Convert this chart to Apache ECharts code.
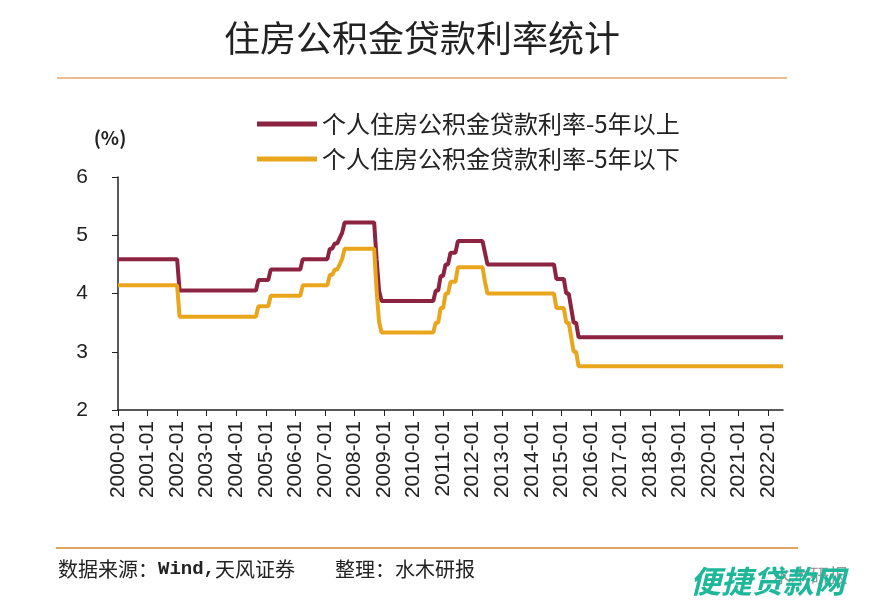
<!DOCTYPE html>
<html>
<head>
<meta charset="utf-8">
<script src="https://cdn.jsdelivr.net/npm/echarts@6/dist/echarts.min.js"></script>
<style>
  html, body { margin: 0; padding: 0; background: #fff; }
  #main { width: 889px; height: 605px; }
</style>
</head>
<body>
<div id="main"></div>
<script>
// 利率调整的月份（月末值），之后保持不变直到下一次调整
var changeMonths = ['2000-01', '2002-02', '2004-10', '2005-03', '2006-04', '2007-03', '2007-05', '2007-07', '2007-08', '2007-09',
    '2008-10', '2008-11', '2008-12', '2010-10', '2010-12', '2011-02', '2011-04', '2011-07', '2012-06', '2012-07',
    '2014-11', '2015-03', '2015-05', '2015-06', '2015-08'];
var rateAbove5 = [4.59, 4.05, 4.23, 4.41, 4.59, 4.77, 4.86, 4.95, 5.04, 5.22,
    4.59, 4.05, 3.87, 4.05, 4.30, 4.50, 4.70, 4.90, 4.70, 4.50,
    4.25, 4.00, 3.75, 3.50, 3.25];
var rateBelow5 = [4.14, 3.60, 3.78, 3.96, 4.14, 4.32, 4.41, 4.50, 4.59, 4.77,
    4.05, 3.51, 3.33, 3.50, 3.75, 4.00, 4.20, 4.45, 4.20, 4.00,
    3.75, 3.50, 3.25, 3.00, 2.75];
var startYear = 2000, endYear = 2022, endMonth = 7;
var seriesNames = ['个人住房公积金贷款利率-5年以上', '个人住房公积金贷款利率-5年以下'];

var months = [];
for (var y = startYear; y <= endYear; y++) {
    for (var m = 1; m <= 12; m++) {
        if (y === endYear && m > endMonth) break;
        months.push(y + '-' + (m < 10 ? '0' + m : m));
    }
}

function monthly(values) {
    var out = [];
    var k = 0;
    for (var i = 0; i < months.length; i++) {
        while (k + 1 < changeMonths.length && changeMonths[k + 1] <= months[i]) k++;
        out.push(values[k]);
    }
    return out;
}

var everyYear = function (idx) { return idx % 12 === 0; };

var mychart = echarts.init(document.getElementById('main'));
var option = {
    animation: false,
    backgroundColor: '#fff',
    title: {
        text: '住房公积金贷款利率统计',
        left: 417,
        top: 15,
        textAlign: 'center',
        textStyle: {
            fontFamily: 'Noto Sans CJK SC',
            fontSize: 36,
            fontWeight: 'normal',
            color: '#222'
        }
    },
    legend: {
        orient: 'vertical',
        left: 252,
        top: 107,
        itemWidth: 60,
        itemHeight: 5,
        itemGap: 11,
        icon: 'rect',
        textStyle: {
            fontFamily: 'Noto Sans CJK SC',
            fontSize: 24,
            color: '#222'
        }
    },
    grid: {
        left: 118,
        right: 106,
        top: 177,
        bottom: 195
    },
    xAxis: {
        type: 'category',
        data: months,
        boundaryGap: false,
        axisLine: { lineStyle: { color: '#222', width: 1.5 } },
        axisTick: { interval: everyYear, length: 6, lineStyle: { color: '#222' } },
        axisLabel: {
            interval: everyYear,
            rotate: 90,
            color: '#222',
            fontFamily: 'Liberation Sans',
            fontSize: 21,
            margin: 11
        }
    },
    yAxis: {
        type: 'value',
        min: 2,
        max: 6,
        interval: 1,
        name: '(%)',
        nameLocation: 'end',
        nameGap: 30,
        nameTextStyle: {
            fontFamily: 'Noto Sans CJK SC',
            fontSize: 19,
            fontWeight: 'bold',
            color: '#222',
            align: 'center',
            padding: [0, 16, 0, 0]
        },
        splitLine: { show: false },
        axisLine: { show: true, lineStyle: { color: '#222', width: 1.5 } },
        axisTick: { show: true, length: 6, lineStyle: { color: '#222' } },
        axisLabel: {
            color: '#222',
            fontFamily: 'Liberation Sans',
            fontSize: 21,
            margin: 30
        }
    },
    series: [
        {
            name: seriesNames[0],
            type: 'line',
            data: monthly(rateAbove5),
            showSymbol: false,
            lineStyle: { width: 4, color: '#8c2341' },
            itemStyle: { color: '#8c2341' }
        },
        {
            name: seriesNames[1],
            type: 'line',
            data: monthly(rateBelow5),
            showSymbol: false,
            lineStyle: { width: 4, color: '#e9a61c' },
            itemStyle: { color: '#e9a61c' }
        }
    ],
    graphic: [
        {
            type: 'line',
            shape: { x1: 57, y1: 78, x2: 787, y2: 78 },
            style: { stroke: '#e8a66a', lineWidth: 1.5 }
        },
        {
            type: 'line',
            shape: { x1: 56, y1: 548, x2: 798, y2: 548 },
            style: { stroke: '#e0a562', lineWidth: 2 }
        },
        {
            type: 'text',
            left: 58,
            top: 559,
            style: {
                text: '{a|数据来源：}{b|Wind,}{a|天风证券　　整理：水木研报}',
                rich: {
                    a: { font: '20px "Noto Sans CJK SC"', fill: '#222' },
                    b: { font: 'bold 19px "Liberation Mono"', fill: '#222' }
                }
            }
        },
        {
            type: 'text',
            left: 772,
            top: 566,
            style: {
                text: '水木研报',
                font: '19px "Noto Sans CJK SC"',
                fill: '#999'
            }
        },
        {
            type: 'text',
            left: 690,
            top: 566,
            style: {
                text: '便捷贷款网',
                font: 'italic bold 31px "Noto Sans CJK SC"',
                fill: '#1db89a'
            }
        }
    ]
};
mychart.setOption(option);
</script>
</body>
</html>
